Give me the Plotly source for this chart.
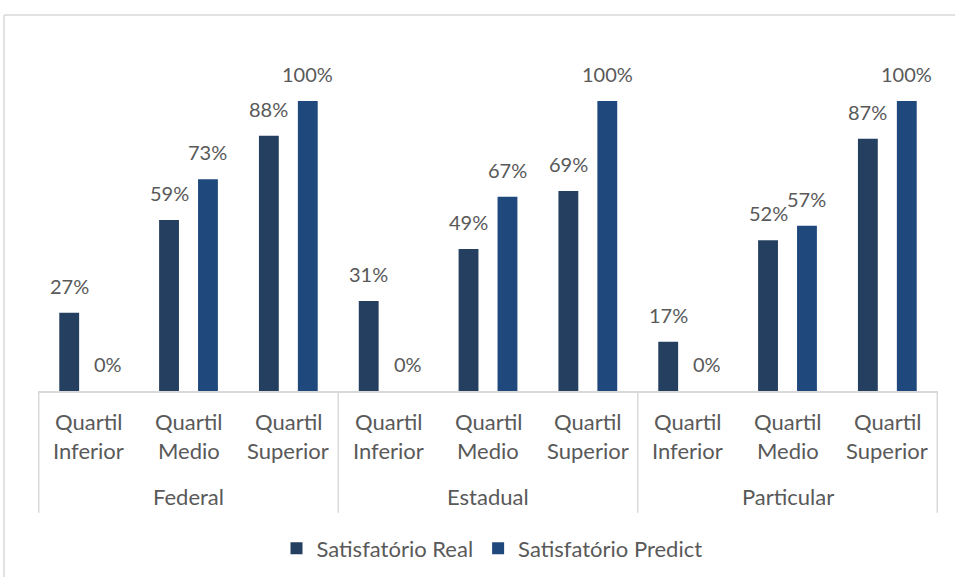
import plotly.graph_objects as go

# Categories
groups = ["Federal", "Estadual", "Particular"]
quartil_word = "Quartil"
quartis = ["Inferior", "Medio", "Superior"]

# Series values (fraction of students)
real = [0.27, 0.59, 0.88, 0.31, 0.49, 0.69, 0.17, 0.52, 0.87]
predict = [0.00, 0.73, 1.00, 0.00, 0.67, 1.00, 0.00, 0.57, 1.00]

series_names = ["Satisfatório Real", "Satisfatório Predict"]
colors = ["#243F60", "#1F497D"]

x_parent = [g for g in groups for _ in quartis]
x_child = [f"{quartil_word} {q}" for _ in groups for q in quartis]

W, H = 955, 581
L, R, T, B = 38, 17, 101, 187
pw, ph = W - L - R, H - T - B

FONT = "Lato, Open Sans, sans-serif"
TXT = "#595959"
GRID = "#D9D9D9"


def px_x(p):
    return (p - L) / pw


def px_y(p):
    return (H - B - p) / ph


fig = go.Figure()
for name, vals, col in zip(series_names, [real, predict], colors):
    fig.add_trace(go.Bar(
        x=[x_parent, x_child], y=vals, name=name,
        marker=dict(color=col, line=dict(width=0)),
    ))

# Data labels above each bar
off = 0.195
for k, vals in enumerate([real, predict]):
    for i, v in enumerate(vals):
        fig.add_annotation(
            x=i + (-off if k == 0 else off), y=v, xref="x", yref="y",
            text=f"{round(v * 100)}%", showarrow=False,
            yanchor="bottom", yshift=13,
            font=dict(family=FONT, size=20, color=TXT),
        )

# Two-level category labels
n_sub = len(quartis)
for gi, g in enumerate(groups):
    for qi, q in enumerate(quartis):
        idx = gi * n_sub + qi
        fig.add_annotation(x=idx, y=px_y(425), xref="x", yref="paper",
                           text=quartil_word, showarrow=False, yanchor="middle",
                           font=dict(family=FONT, size=22, color=TXT))
        fig.add_annotation(x=idx, y=px_y(454), xref="x", yref="paper",
                           text=q, showarrow=False, yanchor="middle",
                           font=dict(family=FONT, size=22, color=TXT))
    fig.add_annotation(x=gi * n_sub + (n_sub - 1) / 2, y=px_y(501), xref="x", yref="paper",
                       text=g, showarrow=False, yanchor="middle",
                       font=dict(family=FONT, size=22, color=TXT))

# Group dividers below the axis
for gi in range(len(groups) + 1):
    xd = gi * n_sub - 0.5
    fig.add_shape(type="line", xref="x", yref="paper", x0=xd, x1=xd,
                  y0=0, y1=px_y(517), line=dict(color=GRID, width=1.5))

# Chart frame (top and left edges)
frame = dict(color=GRID, width=1.5)
fig.add_shape(type="line", xref="paper", yref="paper",
              x0=px_x(4), x1=px_x(956), y0=px_y(14), y1=px_y(14), line=frame)
fig.add_shape(type="line", xref="paper", yref="paper",
              x0=px_x(4), x1=px_x(4), y0=px_y(14), y1=px_y(582), line=frame)

fig.update_layout(
    width=W, height=H,
    margin=dict(l=L, r=R, t=T, b=B),
    paper_bgcolor="white", plot_bgcolor="white",
    barmode="group", bargap=0.22, bargroupgap=0.49,
    font=dict(family=FONT, size=22, color=TXT),
    showlegend=True,
    legend=dict(orientation="h", x=px_x(492), xanchor="center", y=px_y(553), yanchor="middle",
                font=dict(family=FONT, size=22, color=TXT), itemwidth=30,
                traceorder="normal"),
    xaxis=dict(type="multicategory", showline=True, linecolor=GRID, linewidth=1.5,
               showdividers=False, showticklabels=False,
               ticks="", showgrid=False, zeroline=False),
    yaxis=dict(range=[0, 1], visible=False, showgrid=False, zeroline=False),
)

fig.write_html("out.html")
